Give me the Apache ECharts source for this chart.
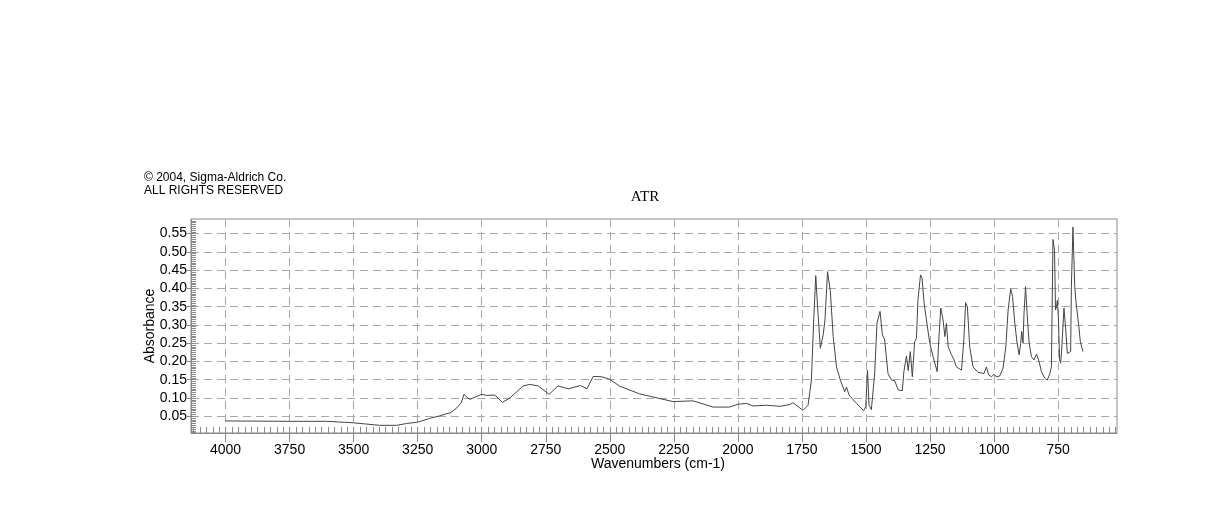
<!DOCTYPE html>
<html lang="en">
<head>
  <meta charset="UTF-8">
  <title>ATR</title>
  <style>
    html, body { margin: 0; padding: 0; background: #fff; }
  </style>
</head>
<body>
  <script src="https://cdn.jsdelivr.net/npm/echarts@6/dist/echarts.min.js"></script>
  <div id="main" style="width: 1218px;height:528px;"></div>
  <script type="text/javascript">
      // spectrum (cm-1, absorbance)
      var wavenumbers = [4000, 3750, 3606, 3502, 3398, 3333, 3293, 3248, 3203, 3164, 3121, 3097, 3080, 3069, 3060, 3046,
        3001, 2981, 2949, 2919, 2890, 2838, 2812, 2780, 2737, 2702, 2663, 2614, 2589, 2565, 2532, 2500, 2461, 2383,
        2253, 2175, 2097, 2032, 1999, 1966, 1941, 1888, 1836, 1797, 1785, 1746, 1726, 1713, 1704, 1696, 1689, 1678,
        1667, 1660, 1650, 1646, 1639, 1628, 1615, 1600, 1583, 1576, 1566, 1537, 1509, 1501, 1494, 1488, 1479, 1466,
        1457, 1450, 1445, 1436, 1427, 1414, 1400, 1388, 1374, 1358, 1352, 1342, 1335, 1327, 1319, 1310, 1303, 1297,
        1287, 1281, 1273, 1264, 1251, 1238, 1222, 1215, 1208, 1199, 1192, 1186, 1179, 1166, 1157, 1147, 1127, 1118,
        1111, 1104, 1095, 1082, 1062, 1039, 1030, 1021, 1010, 1000, 991, 978, 965, 954, 945, 935, 928, 919, 910, 902,
        896, 892, 887, 883, 877, 871, 863, 854, 844, 834, 824, 815, 802, 792, 783, 776, 770, 764, 760, 756, 753, 749,
        744, 740, 736, 731, 727, 720, 714, 707, 701, 698, 692, 685, 681, 676, 669, 663, 653];
      var absorbance = [0.037, 0.036, 0.036, 0.032, 0.025, 0.025, 0.030, 0.034, 0.044, 0.051, 0.060, 0.073, 0.087, 0.110, 0.103, 0.096,
        0.110, 0.107, 0.108, 0.088, 0.100, 0.133, 0.137, 0.133, 0.110, 0.133, 0.125, 0.134, 0.125, 0.159, 0.158, 0.151, 0.132, 0.111,
        0.090, 0.092, 0.075, 0.075, 0.083, 0.085, 0.078, 0.080, 0.077, 0.082, 0.087, 0.066, 0.080, 0.149, 0.314, 0.435, 0.350, 0.236,
        0.273, 0.314, 0.446, 0.451, 0.391, 0.268, 0.185, 0.149, 0.117, 0.130, 0.108, 0.085, 0.065, 0.076, 0.176, 0.080, 0.068, 0.167,
        0.305, 0.306, 0.337, 0.273, 0.259, 0.167, 0.149, 0.147, 0.122, 0.120, 0.172, 0.215, 0.175, 0.227, 0.158, 0.254, 0.263, 0.369,
        0.437, 0.428, 0.360, 0.314, 0.250, 0.213, 0.172, 0.268, 0.346, 0.314, 0.268, 0.304, 0.240, 0.218, 0.206, 0.185, 0.176, 0.259,
        0.361, 0.349, 0.240, 0.185, 0.170, 0.167, 0.185, 0.163, 0.158, 0.165, 0.158, 0.160, 0.181, 0.240, 0.341, 0.399, 0.378, 0.305, 0.250, 0.218,
        0.250, 0.282, 0.250, 0.332, 0.405, 0.332, 0.250, 0.213, 0.204, 0.220, 0.199, 0.172, 0.154, 0.149, 0.165, 0.185, 0.534, 0.506, 0.341, 0.350, 0.367, 0.323,
        0.204, 0.195, 0.231, 0.236, 0.346, 0.286, 0.222, 0.218, 0.227, 0.405, 0.568, 0.405, 0.369, 0.364, 0.295, 0.254, 0.227];

      var xTicks = [4000, 3750, 3500, 3250, 3000, 2750, 2500, 2250, 2000, 1750, 1500, 1250, 1000, 750];
      var yTicks = [0.05, 0.10, 0.15, 0.20, 0.25, 0.30, 0.35, 0.40, 0.45, 0.50, 0.55];

      var xMin = 520, xMax = 4135;
      var yMin = 0.004, yMax = 0.59;

      // small inside ticks: every 25 cm-1 and every 0.005
      var xMinor = [];
      for (var w = 525; w <= 4125; w += 25) xMinor.push(w);
      var yMinor = [];
      for (var k = 1; k <= 117; k++) yMinor.push(+(k * 0.005).toFixed(3));

      var myChart = echarts.init(document.getElementById('main'));

      var axisGray = '#8a8a8a';
      var gridLine = { show: true, lineStyle: { color: '#a8a8a8', type: [8, 5], width: 1 } };
      var sans = '"Liberation Sans", Arial, sans-serif';

      var option = {
        animation: false,
        graphic: [
          { type: 'text', left: 144, top: 172, style: { text: '© 2004, Sigma-Aldrich Co.', font: '12px ' + sans, fill: '#000' } },
          { type: 'text', left: 144, top: 185, style: { text: 'ALL RIGHTS RESERVED', font: '12px ' + sans, fill: '#000' } },
          { type: 'text', x: 645, y: 197, style: { text: 'ATR', font: '15px "Liberation Serif", "Times New Roman", serif', fill: '#000', align: 'center', verticalAlign: 'middle' } }
        ],
        grid: {
          left: 191, top: 219, width: 926, height: 214,
          show: true, borderColor: axisGray, borderWidth: 1
        },
        xAxis: [{
          type: 'value', inverse: true, min: xMin, max: xMax,
          name: 'Wavenumbers (cm-1)', nameLocation: 'middle', nameGap: 24, nameMoveOverlap: false,
          nameTextStyle: { color: '#000', fontSize: 14, fontFamily: 'Liberation Sans', padding: [0, 0, 0, 8] },
          axisLine: { show: true, lineStyle: { color: axisGray } },
          axisTick: { show: true, customValues: xTicks, length: 9, lineStyle: { color: axisGray } },
          axisLabel: {
            customValues: xTicks, color: '#000', fontSize: 14, fontFamily: 'Liberation Sans', margin: 10,
            formatter: function (v) { return String(v); }
          },
          splitLine: gridLine
        }, {
          type: 'value', inverse: true, min: xMin, max: xMax, position: 'bottom',
          axisLine: { show: false },
          axisTick: { show: true, inside: true, customValues: xMinor, length: 6, lineStyle: { color: axisGray } },
          axisLabel: { show: false },
          splitLine: { show: false }
        }],
        yAxis: [{
          type: 'value', min: yMin, max: yMax,
          name: 'Absorbance', nameLocation: 'middle', nameGap: 34, nameMoveOverlap: false,
          nameTextStyle: { color: '#000', fontSize: 14, fontFamily: 'Liberation Sans' },
          axisLine: { show: true, lineStyle: { color: axisGray } },
          axisTick: { show: true, customValues: yTicks, length: 4, lineStyle: { color: axisGray } },
          axisLabel: {
            customValues: yTicks, color: '#000', fontSize: 14, fontFamily: 'Liberation Sans', margin: 4,
            formatter: function (v) { return v.toFixed(2); }
          },
          splitLine: gridLine
        }, {
          type: 'value', min: yMin, max: yMax, position: 'left',
          axisLine: { show: false },
          axisTick: { show: true, inside: true, customValues: yMinor, length: 5, lineStyle: { color: axisGray } },
          axisLabel: { show: false },
          splitLine: { show: false }
        }],
        series: [{
          type: 'line',
          data: wavenumbers.map(function (w, i) { return [w, absorbance[i]]; }),
          showSymbol: false,
          lineStyle: { color: '#444', width: 1 }
        }]
      };

      myChart.setOption(option);
  </script>
</body>
</html>
